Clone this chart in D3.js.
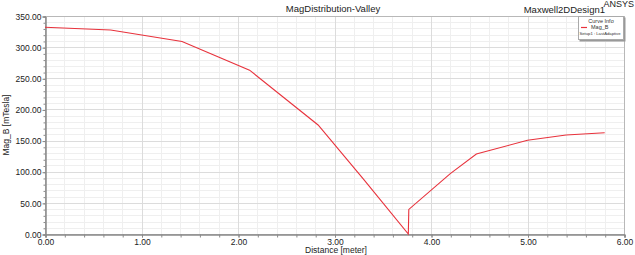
<!DOCTYPE html>
<html>
<head>
<meta charset="utf-8">
<script src="https://cdn.jsdelivr.net/npm/d3@7"></script>
<style>
  body { margin: 0; background: #fff; }
  text { font-family: "Liberation Sans", Arial, sans-serif; }
</style>
</head>
<body>
<svg id="chart"></svg>
<script>
// curve Mag_B
var distance = [0, 0.68, 1.42, 2.12, 2.83, 3.3, 3.765, 3.77, 4.2, 4.47, 5.0, 5.4, 5.8];
var magB = [332, 327.5, 309, 263, 175, 88, 0, 39.5, 97, 128.5, 150.5, 159, 162.6];

var xTicks = [0, 1, 2, 3, 4, 5, 6];
var yTicks = [0, 50, 100, 150, 200, 250, 300, 350];

var screen = {width:635, height:255};
var margins = {left:45, right:11, top:16, bottom:21};
var graph = {
    width: screen.width - margins.left - margins.right,
    height: screen.height - margins.top - margins.bottom
};

var svg = d3.select("#chart")
    .attr("width", screen.width)
    .attr("height", screen.height);

var xScale = d3.scaleLinear().domain([0, 6]).range([0, graph.width]);
var yScale = d3.scaleLinear().domain([0, 350]).range([graph.height, 0]);

var target = svg.append("g")
    .attr("transform", "translate(" + margins.left + "," + margins.top + ")");

// minor grid
target.append("g")
    .selectAll("line")
    .data(d3.range(0, 6.001, 0.2))
    .enter().append("line")
    .attr("x1", function(d) { return Math.round(xScale(d)) + 0.5; })
    .attr("x2", function(d) { return Math.round(xScale(d)) + 0.5; })
    .attr("y1", 0).attr("y2", graph.height)
    .attr("stroke", "#efefef");
target.append("g")
    .selectAll("line")
    .data(d3.range(0, 350.001, 10))
    .enter().append("line")
    .attr("y1", function(d) { return Math.round(yScale(d)) + 0.5; })
    .attr("y2", function(d) { return Math.round(yScale(d)) + 0.5; })
    .attr("x1", 0).attr("x2", graph.width)
    .attr("stroke", "#efefef");

// major grid
target.append("g")
    .selectAll("line")
    .data(xTicks)
    .enter().append("line")
    .attr("x1", function(d) { return Math.round(xScale(d)) + 0.5; })
    .attr("x2", function(d) { return Math.round(xScale(d)) + 0.5; })
    .attr("y1", 0).attr("y2", graph.height)
    .attr("stroke", "#dcdcdc");
target.append("g")
    .selectAll("line")
    .data(yTicks)
    .enter().append("line")
    .attr("y1", function(d) { return Math.round(yScale(d)) + 0.5; })
    .attr("y2", function(d) { return Math.round(yScale(d)) + 0.5; })
    .attr("x1", 0).attr("x2", graph.width)
    .attr("stroke", "#dcdcdc");

// frame
target.append("rect")
    .attr("x", 0.5).attr("y", 0.5)
    .attr("width", graph.width).attr("height", graph.height)
    .attr("fill", "none")
    .attr("stroke", "#b8b8b8");

// axes
var xAxis = d3.axisBottom(xScale).tickValues(xTicks)
    .tickFormat(d3.format(".2f")).tickSize(3).tickPadding(1);
var xMinor = d3.axisBottom(xScale).tickValues(d3.range(0, 6.001, 0.2))
    .tickFormat("").tickSize(3);
var yAxis = d3.axisLeft(yScale).tickValues(yTicks)
    .tickFormat(d3.format(".2f")).tickSize(3).tickPadding(1);
var yMinor = d3.axisLeft(yScale).tickValues(d3.range(0, 350.001, 10))
    .tickFormat("").tickSize(2);

[xMinor, xAxis].forEach(function(ax) {
    target.append("g")
        .attr("transform", "translate(0.5," + (graph.height + 0.5) + ")")
        .call(ax);
});
[yMinor, yAxis].forEach(function(ax) {
    target.append("g")
        .attr("transform", "translate(0.5,0.5)")
        .call(ax);
});
target.selectAll(".domain").attr("stroke", "#8a8a8a");
target.selectAll(".tick line").attr("stroke", "#8a8a8a");
target.selectAll(".tick text")
    .attr("font-size", 8.5)
    .attr("fill", "#222")
    .style("font-family", "'Liberation Sans', Arial, sans-serif");

// curve
var line = d3.line()
    .x(function(d, i) { return xScale(distance[i]); })
    .y(function(d) { return yScale(d); });

target.append("path")
    .datum(magB)
    .attr("d", line)
    .attr("fill", "none")
    .attr("stroke", "#e8323c")
    .attr("stroke-width", 1.1);

// labels
var labels = svg.append("g");
labels.append("text")
    .text("MagDistribution-Valley")
    .attr("text-anchor", "middle")
    .attr("x", 333).attr("y", 12)
    .attr("font-size", 9.5).attr("fill", "#222");
labels.append("text")
    .text("Maxwell2DDesign1")
    .attr("text-anchor", "end")
    .attr("x", 605).attr("y", 13)
    .attr("font-size", 9.5).attr("fill", "#222");
labels.append("text")
    .text("ANSYS")
    .attr("text-anchor", "end")
    .attr("x", 634).attr("y", 7)
    .attr("font-size", 9).attr("fill", "#222");
labels.append("text")
    .text("Distance [meter]")
    .attr("text-anchor", "middle")
    .attr("x", 336).attr("y", 253)
    .attr("font-size", 8.5).attr("fill", "#222");
labels.append("g")
    .attr("transform", "translate(9," + (margins.top + graph.height / 2) + ")")
    .append("text")
    .text("Mag_B [mTesla]")
    .attr("text-anchor", "middle")
    .attr("transform", "rotate(-90)")
    .attr("font-size", 8.5).attr("fill", "#222");

// legend
var legend = svg.append("g").attr("transform", "translate(578,16)");
legend.append("rect")
    .attr("x", 1.5).attr("y", 1.5).attr("width", 46).attr("height", 24)
    .attr("fill", "#999");
legend.append("rect")
    .attr("x", 0.5).attr("y", 0.5).attr("width", 45).attr("height", 23)
    .attr("fill", "#fff").attr("stroke", "#aaa");
legend.append("text")
    .text("Curve Info")
    .attr("text-anchor", "middle")
    .attr("x", 23).attr("y", 7)
    .attr("font-size", 5.5).attr("fill", "#333");
legend.append("line")
    .attr("x1", 3).attr("x2", 9).attr("y1", 11.5).attr("y2", 11.5)
    .attr("stroke", "#e8323c").attr("stroke-width", 1.2);
legend.append("text")
    .text("Mag_B")
    .attr("x", 13).attr("y", 13)
    .attr("font-size", 5.5).attr("fill", "#333");
legend.append("text")
    .text("Setup1 : LastAdaptive")
    .attr("x", 1.5).attr("y", 19)
    .attr("font-size", 4.2).attr("fill", "#333");
</script>
</body>
</html>
